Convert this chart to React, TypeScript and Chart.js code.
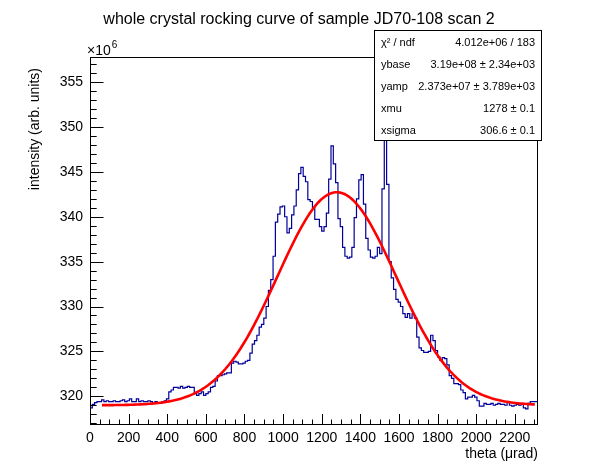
import { Chart, registerables } from 'chart.js';
import { useEffect, useRef } from 'react';

Chart.register(...registerables);

// histogram: fixed-width bins starting at theta = 0 (values in units of 1e6)
const binWidth = 12;
const thetaStart = 0;
const counts = [
  318.7, 319.1, 319.3, 319.4, 319.4, 319.6, 319.4, 319.5, 319.4, 319.4,
  319.5, 319.4, 319.4, 319.5, 319.6, 319.4, 319.5, 319.7, 319.4, 319.4,
  319.7, 319.4, 319.5, 319.4, 319.4, 319.5, 319.4, 319.2, 319.4, 319.3,
  319.2, 319.4, 319.5, 319.7, 320.5, 320.7, 321.0, 321.0, 320.9, 321.1,
  320.9, 321.0, 321.1, 321.0, 321.0, 320.3, 320.1, 320.3, 320.5, 320.1,
  320.3, 320.5, 321.0, 321.1, 321.7, 322.3, 322.3, 322.4, 322.5, 322.6,
  322.6, 323.7, 323.9, 323.8, 323.6, 323.6, 323.7, 323.9, 324.0, 324.8,
  325.8, 326.2, 326.8, 327.7, 328.0, 328.7, 330.0, 331.8, 333.0, 335.6,
  339.4, 340.3, 341.1, 341.2, 340.0, 338.2, 338.7, 340.2, 341.2, 343.0,
  344.8, 345.5, 344.5, 343.9, 341.9, 341.7, 341.0, 339.7, 339.7, 338.9,
  338.4, 338.9, 340.4, 344.2, 347.9, 345.9, 343.8, 339.8, 338.9, 336.6,
  335.6, 335.4, 335.5, 336.6, 339.9, 342.0, 344.1, 344.7, 341.4, 337.6,
  336.3, 335.5, 335.4, 335.6, 336.6, 335.9, 343.1, 352.0, 343.6, 335.0,
  333.2, 331.9, 330.8, 330.5, 330.0, 329.2, 328.8, 329.2, 328.7, 329.2,
  328.7, 326.6, 325.4, 325.1, 324.9, 324.9, 325.0, 326.8, 326.2, 325.1,
  324.4, 324.0, 324.3, 324.2, 323.5, 322.3, 322.0, 321.4, 321.4, 321.3,
  320.7, 320.4, 319.7, 319.9, 319.9, 320.1, 319.9, 319.5, 318.9, 318.9,
  319.2, 319.1, 319.1, 319.2, 319.0, 319.1, 319.2, 319.1, 319.1, 319.0,
  319.4, 319.0, 318.9, 319.0, 319.1, 319.0, 319.1, 318.7, 318.6, 319.2,
  319.4, 319.4, 319.4,
];

// gaussian fit parameters as printed in the stats box (y in units of 1e6)
const ybase = 319.0;
const yamp = 23.73;
const xmu = 1278;
const xsigma = 306.6;
const fitRange = [62, 2304];

const statLabels = ['χ² / ndf', 'ybase', 'yamp', 'xmu', 'xsigma'];
const statValues = [
  '4.012e+06 / 183',
  '3.19e+08 ± 2.34e+03',
  '2.373e+07 ± 3.789e+03',
  '1278 ± 0.1',
  '306.6 ± 0.1',
];

const titleText = 'whole crystal rocking curve of sample JD70-108 scan 2';
const xTitle = 'theta (μrad)';
const yTitle = 'intensity (arb. units)';

const FONT = '"Liberation Sans", Arial, sans-serif';

const rootDecor = {
  id: 'rootDecor',
  afterDatasetsDraw(chart: any) {
    const { ctx, chartArea } = chart;
    const { left, right, top, bottom } = chartArea;
    const xs = chart.scales.x;
    const ys = chart.scales.y;
    ctx.save();
    ctx.strokeStyle = '#000';
    ctx.lineWidth = 1;
    ctx.strokeRect(left + 0.5, top + 0.5, right - left - 1, bottom - top - 1);
    ctx.beginPath();
    // x ticks, pointing inward
    for (let v = 0; v <= xs.max; v += 50) {
      const px = Math.round(xs.getPixelForValue(v)) + 0.5;
      const len = v % 200 === 0 ? 11 : 5.5;
      ctx.moveTo(px, bottom);
      ctx.lineTo(px, bottom - len);
    }
    // y ticks
    for (let v = Math.ceil(ys.min); v <= ys.max; v += 1) {
      const py = Math.round(ys.getPixelForValue(v)) + 0.5;
      const len = v % 5 === 0 ? 13.5 : 6.7;
      ctx.moveTo(left, py);
      ctx.lineTo(left + len, py);
    }
    ctx.stroke();
    ctx.restore();
  },
  afterDraw(chart: any) {
    const { ctx, chartArea } = chart;
    ctx.save();
    ctx.fillStyle = '#000';
    // title
    ctx.font = `16px ${FONT}`;
    ctx.textAlign = 'center';
    ctx.textBaseline = 'alphabetic';
    ctx.fillText(titleText, 299, 24);
    // x10^6
    ctx.font = `14px ${FONT}`;
    ctx.textAlign = 'left';
    ctx.fillText('×10', 87, 55);
    const w = ctx.measureText('×10').width;
    ctx.font = `10px ${FONT}`;
    ctx.fillText('6', 87 + w + 1, 48);
    // x title
    ctx.font = `14px ${FONT}`;
    ctx.textAlign = 'right';
    ctx.textBaseline = 'middle';
    ctx.fillText(xTitle, chartArea.right, 454);
    // y title
    ctx.translate(35, 68);
    ctx.rotate(-Math.PI / 2);
    ctx.fillText(yTitle, 0, 0);
    ctx.setTransform(1, 0, 0, 1, 0, 0);
    // stats box
    const bx = 374, by = 30, bw = 167, bh = 110;
    ctx.fillStyle = '#fff';
    ctx.fillRect(bx, by, bw, bh);
    ctx.strokeStyle = '#000';
    ctx.lineWidth = 1;
    ctx.strokeRect(bx + 0.5, by + 0.5, bw, bh);
    ctx.fillStyle = '#000';
    ctx.font = `11px ${FONT}`;
    const rowH = bh / statLabels.length;
    statLabels.forEach((lab, i) => {
      const cy = by + rowH * (i + 0.5) + 2;
      ctx.textAlign = 'left';
      ctx.fillText(lab, bx + 7, cy);
      ctx.textAlign = 'right';
      ctx.fillText(statValues[i], bx + bw - 6, cy);
    });
    ctx.restore();
  },
};

export default function App() {
  const canvasRef = useRef<HTMLCanvasElement>(null);

  useEffect(() => {
    const canvas = canvasRef.current;
    if (!canvas) return;
    const ctx = canvas.getContext('2d');
    if (!ctx) return;

    const histPoints = counts.map((c, i) => ({ x: thetaStart + i * binWidth, y: c }));
    histPoints.push({ x: thetaStart + counts.length * binWidth, y: counts[counts.length - 1] });

    const fitPoints: { x: number; y: number }[] = [];
    const nFit = 200;
    for (let k = 0; k <= nFit; k++) {
      const x = fitRange[0] + ((fitRange[1] - fitRange[0]) * k) / nFit;
      const z = (x - xmu) / xsigma;
      fitPoints.push({ x, y: ybase + yamp * Math.exp(-0.5 * z * z) });
    }

    const chart = new Chart(ctx, {
      type: 'line',
      data: {
        datasets: [
          {
            label: 'fit',
            data: fitPoints,
            borderColor: '#ff0000',
            borderWidth: 2.6,
            pointRadius: 0,
            fill: false,
            tension: 0,
          },
          {
            label: 'hist',
            data: histPoints,
            borderColor: '#000099',
            borderWidth: 1.2,
            pointRadius: 0,
            fill: false,
            stepped: 'before',
          },
        ],
      },
      options: {
        responsive: false,
        animation: false,
        events: [],
        layout: { padding: { top: 57, right: 60, left: 0, bottom: 0 } },
        plugins: {
          legend: { display: false },
          tooltip: { enabled: false },
          title: { display: false },
        },
        scales: {
          x: {
            type: 'linear',
            min: 0,
            max: 2320,
            grid: { display: false, drawTicks: false },
            border: { display: false },
            ticks: {
              stepSize: 200,
              includeBounds: false,
              autoSkip: false,
              maxRotation: 0,
              padding: 5,
              color: '#000',
              font: { family: FONT, size: 14 },
              callback: (v: any) => String(v),
            },
            afterFit: (s: any) => {
              s.height = 49;
            },
          },
          y: {
            type: 'linear',
            min: 316.8,
            max: 357.8,
            grid: { display: false, drawTicks: false },
            border: { display: false },
            ticks: {
              stepSize: 5,
              includeBounds: false,
              padding: 7,
              color: '#000',
              font: { family: FONT, size: 14 },
              callback: (v: any) => String(v),
            },
            afterFit: (s: any) => {
              s.width = 90;
            },
          },
        },
      },
      plugins: [rootDecor],
    });

    return () => {
      chart.destroy();
    };
  }, []);

  return (
    <div style={{ position: 'fixed', left: 0, top: 0, width: 598, height: 474, background: '#fff' }}>
      <canvas ref={canvasRef} width={598} height={474} style={{ display: 'block' }} />
    </div>
  );
}
